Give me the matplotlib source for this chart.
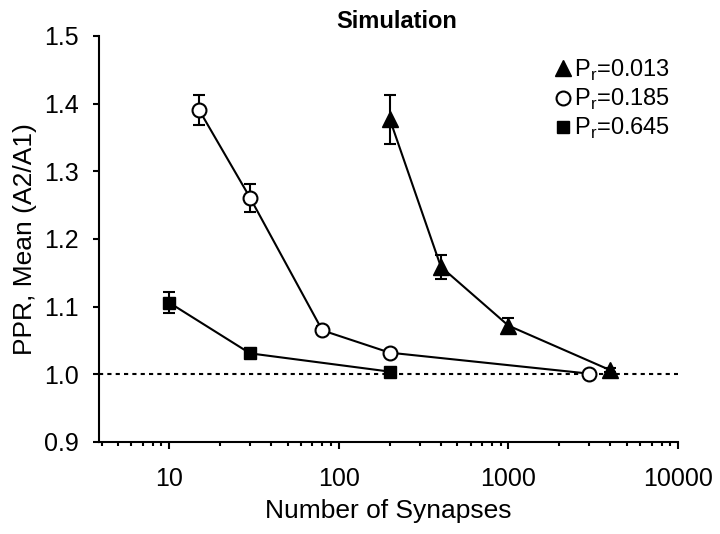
import numpy as np
import matplotlib.pyplot as plt
from matplotlib.lines import Line2D
from matplotlib.ticker import LogLocator, NullFormatter, FixedLocator, FixedFormatter

plt.rcParams['font.family'] = ['Liberation Sans', 'DejaVu Sans']
plt.rcParams['mathtext.fontset'] = 'custom'
plt.rcParams['mathtext.rm'] = 'Liberation Sans'

# P_r = 0.013 (triangles)
n_low = [200, 400, 1000, 4000]
ppr_low = [1.377, 1.159, 1.072, 1.006]
err_low = [0.036, 0.018, 0.011, 0.003]

# P_r = 0.185 (circles)
n_mid = [15, 30, 80, 200, 3000]
ppr_mid = [1.391, 1.261, 1.065, 1.032, 1.001]
err_mid = [0.022, 0.021, 0.006, 0.004, 0.002]

# P_r = 0.645 (squares)
n_high = [10, 30, 200]
ppr_high = [1.106, 1.031, 1.004]
err_high = [0.015, 0.004, 0.002]

labels = ['P$_\\mathrm{r}$=0.013', 'P$_\\mathrm{r}$=0.185', 'P$_\\mathrm{r}$=0.645']
xticks = [10, 100, 1000, 10000]
yticks = [0.9, 1.0, 1.1, 1.2, 1.3, 1.4, 1.5]

fig = plt.figure(figsize=(7.2, 5.34), dpi=100)
ax = fig.add_axes([99 / 720, 1 - 442 / 534, (678 - 99) / 720, (442 - 36) / 534])

ax.axhline(1.0, color='black', lw=1.5, ls=(0, (2, 2)), zorder=1)

common = dict(color='black', lw=1.5, ecolor='black', elinewidth=1.5,
              capsize=4.5, capthick=1.5, zorder=3)
ax.errorbar(n_low, ppr_low, yerr=err_low, marker='^', ms=11, mfc='black',
            mec='black', **common)
ax.errorbar(n_mid, ppr_mid, yerr=err_mid, marker='o', ms=10, mfc='white',
            mec='black', mew=1.5, **common)
ax.errorbar(n_high, ppr_high, yerr=err_high, marker='s', ms=9, mfc='black',
            mec='black', **common)

ax.set_xscale('log')
ax.set_xlim(3.86, 10000)
ax.set_ylim(0.9, 1.5)
ax.xaxis.set_major_locator(FixedLocator(xticks))
ax.xaxis.set_major_formatter(FixedFormatter([str(t) for t in xticks]))
ax.xaxis.set_minor_locator(LogLocator(base=10, subs=np.arange(2, 10)))
ax.xaxis.set_minor_formatter(NullFormatter())
ax.set_yticks(yticks)
ax.set_yticklabels([f'{t:.1f}' for t in yticks])

for side in ['top', 'right']:
    ax.spines[side].set_visible(False)
for side in ['left', 'bottom']:
    ax.spines[side].set_linewidth(1.5)
ax.tick_params(axis='both', which='major', direction='out', width=1.5, labelsize=18)
ax.tick_params(axis='y', which='major', length=4.5, pad=10)
ax.tick_params(axis='x', which='major', length=5, pad=13)
ax.tick_params(axis='x', which='minor', direction='out', length=3.2, width=1.5)

ax.set_xlabel('Number of Synapses', fontsize=19, labelpad=6)
ax.set_ylabel('PPR, Mean (A2/A1)', fontsize=19, labelpad=5)
ax.set_title('Simulation', fontsize=17, fontweight='bold', pad=6, x=0.515)

handles = [
    Line2D([], [], ls='none', marker='^', ms=11, mfc='black', mec='black'),
    Line2D([], [], ls='none', marker='o', ms=10, mfc='white', mec='black', mew=1.5),
    Line2D([], [], ls='none', marker='s', ms=9, mfc='black', mec='black'),
]
ax.legend(handles, labels, loc='upper left', bbox_to_anchor=(0.787, 0.9466),
          frameon=False, fontsize=17, handlelength=0.7, handletextpad=0.1,
          labelspacing=0.17, borderaxespad=0, borderpad=0)

fig.savefig('out.png', dpi=100)
